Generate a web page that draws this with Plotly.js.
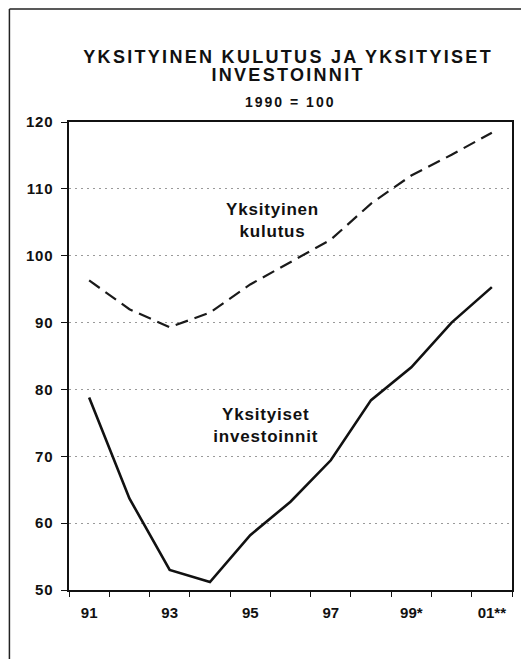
<!DOCTYPE html>
<html>
<head>
<meta charset="utf-8">
<script src="https://cdn.plot.ly/plotly-3.0.1.min.js"></script>
<style>
  html, body { margin: 0; padding: 0; background: #fff; }
  #chart { width: 521px; height: 659px; }
  #chart .gtitle { letter-spacing: 2.3px; }
  #chart .annotation-text { letter-spacing: 0.8px; }
  #chart .annotation.subtitle-note .annotation-text { letter-spacing: 2px; }
  #chart .ytick text { letter-spacing: 0.8px; }
</style>
</head>
<body>
<div id="chart"></div>
<script>
// Data (1990 = 100)
const years = [1991, 1992, 1993, 1994, 1995, 1996, 1997, 1998, 1999, 2000, 2001];
const consumption = [96.3, 92.0, 89.3, 91.5, 95.7, 99.0, 102.4, 107.8, 112.0, 115.1, 118.4];
const investment = [78.8, 63.7, 53.0, 51.2, 58.2, 63.2, 69.4, 78.4, 83.3, 90.0, 95.3];
const xTickVals = [1991, 1993, 1995, 1997, 1999, 2001];
const xTickText = ['91', '93', '95', '97', '99*', '01**'];
const yTickVals = [50, 60, 70, 80, 90, 100, 110, 120];
const seriesNames = ['Yksityinen<br>kulutus', 'Yksityiset<br>investoinnit'];
const titleLines = ['YKSITYINEN KULUTUS JA YKSITYISET', 'INVESTOINNIT'];
const subtitleText = '1990 = 100';

const FONT = 'Liberation Sans, Arial, Helvetica, sans-serif';
const INK = '#111111';

const traces = [
  {
    x: years, y: consumption, type: 'scatter', mode: 'lines',
    name: 'Yksityinen kulutus',
    line: { color: '#1a1a1a', width: 2.2, dash: '13px,7px' },
    hoverinfo: 'x+y'
  },
  {
    x: years, y: investment, type: 'scatter', mode: 'lines',
    name: 'Yksityiset investoinnit',
    line: { color: INK, width: 2.6 },
    hoverinfo: 'x+y'
  }
];

const layout = {
  width: 521, height: 659,
  paper_bgcolor: '#ffffff', plot_bgcolor: '#ffffff',
  margin: { l: 69, r: 9, t: 122, b: 69, pad: 0 },
  showlegend: false,
  font: { family: FONT, color: INK },
  title: {
    text: titleLines.map(t => '<span style="font-size:18px"><b>' + t + '</b></span>').join('<br>'),
    font: { family: FONT, size: 14, color: INK },
    x: 0.553, xanchor: 'center',
    yref: 'container', y: 0.905, yanchor: 'top'
  },
  xaxis: {
    range: [1990.5, 2001.5],
    tickmode: 'array', tickvals: xTickVals, ticktext: xTickText,
    ticks: '', showgrid: false, zeroline: false,
    tickfont: { family: FONT, size: 15, color: INK, weight: 'bold' },
    showline: true, linecolor: INK, linewidth: 1.6, mirror: true,
    minor: { tick0: 1990.5, dtick: 1, ticks: 'outside', ticklen: 5, tickcolor: INK, tickwidth: 1, showgrid: false },
    ticklabelstandoff: 8,
    fixedrange: true
  },
  xaxis2: {
    overlaying: 'x', side: 'bottom', anchor: 'y',
    range: [1990.5, 2001.5],
    showticklabels: false, ticks: '', showgrid: false, zeroline: false, showline: false,
    minor: { tick0: 1990.5, dtick: 1, ticks: 'inside', ticklen: 5, tickcolor: INK, tickwidth: 1, showgrid: false },
    fixedrange: true
  },
  yaxis: {
    range: [50, 120],
    tickmode: 'array', tickvals: yTickVals,
    ticks: 'outside', ticklen: 6, tickwidth: 1, tickcolor: INK,
    tickfont: { family: FONT, size: 15, color: INK, weight: 'bold' },
    showgrid: true, gridcolor: '#9a9a9a', gridwidth: 1, griddash: '2px,4px',
    zeroline: false,
    showline: true, linecolor: INK, linewidth: 1.6, mirror: true,
    ticklabelstandoff: 5,
    fixedrange: true
  },
  annotations: [
    {
      x: 0.501, y: 1.0427, xref: 'paper', yref: 'paper',
      xanchor: 'center', yanchor: 'middle',
      text: '<b>' + subtitleText + '</b>', showarrow: false,
      font: { family: FONT, size: 14, color: INK }, name: 'subtitle'
    },
    {
      x: 1995.55, y: 105.2, xref: 'x', yref: 'y',
      text: '<b>' + seriesNames[0] + '</b>', showarrow: false,
      font: { family: FONT, size: 17, color: INK }, align: 'center'
    },
    {
      x: 1995.4, y: 74.6, xref: 'x', yref: 'y',
      text: '<b>' + seriesNames[1] + '</b>', showarrow: false,
      font: { family: FONT, size: 17, color: INK }, align: 'center'
    }
  ],
  shapes: [
    {
      type: 'line', xref: 'paper', yref: 'paper',
      x0: -0.1345, x1: -0.1345, y0: -0.2, y1: 1.2415,
      line: { color: '#222', width: 1.5 }, layer: 'above'
    },
    {
      type: 'line', xref: 'paper', yref: 'paper',
      x0: -0.1345, x1: 1.05, y0: 1.2415, y1: 1.2415,
      line: { color: '#222', width: 1.5 }, layer: 'above'
    }
  ]
};

Plotly.newPlot('chart', traces, layout, { displayModeBar: false, staticPlot: true }).then(gd => {
  const anns = gd.querySelectorAll('.annotation');
  if (anns.length) anns[0].classList.add('subtitle-note');
});
</script>
</body>
</html>
